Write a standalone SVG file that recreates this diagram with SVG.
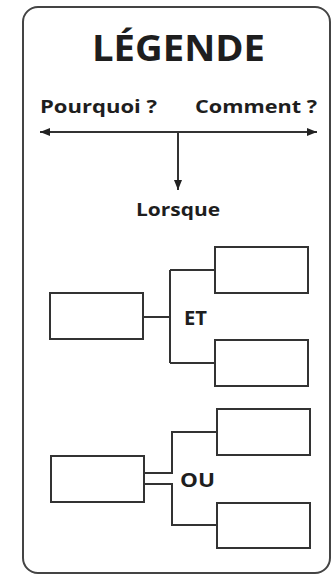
<svg xmlns="http://www.w3.org/2000/svg" width="333" height="577" viewBox="0 0 333 577">
<style>
.t{font-family:"Open Sans","Liberation Sans",sans-serif;font-weight:bold;fill:#1e1e1e}
.box{fill:#fff;stroke:#333;stroke-width:2}
.ln{fill:none;stroke:#333;stroke-width:2}
</style>
<defs>
<marker id="ah" viewBox="0 0 10 8" refX="10" refY="4" markerWidth="10" markerHeight="8" markerUnits="userSpaceOnUse" orient="auto-start-reverse">
<path d="M0,0 L10,4 L0,8 Z" fill="#222"/>
</marker>
</defs>
<rect width="333" height="577" fill="#fff"/>
<g id="frame"><rect x="23" y="7" width="307" height="566" rx="15" fill="none" stroke="#444" stroke-width="2"/></g>
<g id="title"><text class="t" x="92" y="61" font-size="36" textLength="173" lengthAdjust="spacingAndGlyphs">LÉGENDE</text></g>
<g id="pourquoi"><text class="t" x="40" y="113" font-size="18" textLength="117" lengthAdjust="spacingAndGlyphs">Pourquoi ?</text></g>
<g id="comment"><text class="t" x="195" y="113" font-size="18" textLength="122" lengthAdjust="spacingAndGlyphs">Comment ?</text></g>
<g id="lorsque"><text class="t" x="136" y="216" font-size="18" textLength="84" lengthAdjust="spacingAndGlyphs">Lorsque</text></g>
<g id="et-left"><rect class="box" x="50" y="293" width="93" height="46"/></g>
<g id="et-top"><rect class="box" x="215" y="247" width="93" height="46"/></g>
<g id="et-bottom"><rect class="box" x="215" y="340" width="93" height="46"/></g>
<g id="et-label"><text class="t" x="184" y="325" font-size="20" textLength="23" lengthAdjust="spacingAndGlyphs">ET</text></g>
<g id="ou-left"><rect class="box" x="51" y="456" width="93" height="46"/></g>
<g id="ou-top"><rect class="box" x="217" y="409" width="93" height="46"/></g>
<g id="ou-bottom"><rect class="box" x="217" y="503" width="93" height="45"/></g>
<g id="ou-label"><text class="t" x="180" y="487" font-size="20" textLength="35" lengthAdjust="spacingAndGlyphs">OU</text></g>
<g id="connectors">
<line class="ln" x1="40" y1="132" x2="317" y2="132" marker-start="url(#ah)" marker-end="url(#ah)"/>
<line class="ln" x1="178" y1="132" x2="178" y2="190" marker-end="url(#ah)"/>
<path class="ln" d="M143,317 H170 M170,270 V363 M170,270 H215 M170,363 H215"/>
<path class="ln" d="M144,473 H172 V432 H217 M144,484 H172 V525 H217"/>
</g>
</svg>
